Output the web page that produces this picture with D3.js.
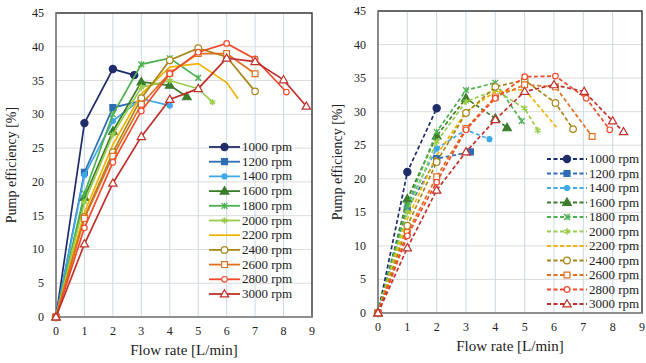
<!DOCTYPE html>
<html>
<head>
<meta charset="utf-8">
<script src="https://cdn.jsdelivr.net/npm/d3@7"></script>
<style>
  body { margin: 0; background: #fff; }
  svg { display: block; }
</style>
</head>
<body>
<div id="wrapper"></div>
<script>
// speeds (legend) and their styles
const speeds = ["1000 rpm", "1200 rpm", "1400 rpm", "1600 rpm", "1800 rpm", "2000 rpm",
  "2200 rpm", "2400 rpm", "2600 rpm", "2800 rpm", "3000 rpm"];
const colors = ["#1f2d6b", "#2e6db4", "#3fa9e8", "#3a7d2a", "#4cb050", "#9acd4c",
  "#f0b400", "#a8861a", "#e07020", "#f04a2a", "#c0302a"];
const markers = ["circle", "square", "dot", "triangle", "xstar", "star",
  "plus", "ocircle", "osquare", "odot", "otriangle"];

const xTicks = [0, 1, 2, 3, 4, 5, 6, 7, 8, 9];
const yTicks = [0, 5, 10, 15, 20, 25, 30, 35, 40, 45];

// left panel: [flow, efficiency]
const leftPoints = [
  [[0, 0], [1, 28.7], [2, 36.7], [2.75, 35.8]],
  [[0, 0], [1, 21.4], [2, 31], [3, 32]],
  [[0, 0], [1, 21], [2, 29], [3, 32.3], [4, 31.3]],
  [[0, 0], [1, 17.7], [2, 27.5], [3, 34.8], [4, 34.3], [4.6, 32.6]],
  [[0, 0], [1, 18.3], [2, 30], [3, 37.4], [4, 38.3], [5, 35.4]],
  [[0, 0], [1, 17], [2, 27], [3, 34], [4, 35], [5, 33.8], [5.5, 31.8]],
  [[0, 0], [1, 15.5], [2, 25.5], [3, 33], [4, 37], [5, 37.5], [6, 34.7], [6.4, 32.3]],
  [[0, 0], [1, 14.8], [2, 24.4], [3, 32.4], [4, 38], [5, 39.8], [6, 38.5], [7, 33.4]],
  [[0, 0], [1, 14.6], [2, 23.8], [3, 31.5], [4, 36.1], [5, 39], [6, 39], [7, 36]],
  [[0, 0], [1, 13.2], [2, 22.9], [3, 30.5], [4, 36], [5, 39.2], [6, 40.5], [7, 38.2], [8.1, 33.3]],
  [[0, 0], [1, 10.8], [2, 19.8], [3, 26.7], [4, 32.2], [5, 33.8], [6, 38.3], [7, 37.8], [8, 35.1], [8.8, 31.2]]
];

// right panel: [flow, efficiency]
const rightPoints = [
  [[0, 0], [1, 21], [2, 30.5]],
  [[0, 0], [1, 15.5], [2, 23], [3.15, 24]],
  [[0, 0], [1, 16], [2, 24.5], [3, 27.3], [3.8, 25.9]],
  [[0, 0], [1, 17], [2, 26.4], [3, 32], [4, 29], [4.4, 27.6]],
  [[0, 0], [1, 16], [2, 27], [3, 33.2], [4, 34.3], [4.9, 28.6]],
  [[0, 0], [1, 15], [2, 25.5], [3, 31.5], [4, 33.2], [5, 30.5], [5.45, 27.2]],
  [[0, 0], [1, 14], [2, 23.5], [3, 30], [4, 33], [5, 33.3], [6.1, 27.6]],
  [[0, 0], [1, 13], [2, 22.5], [3, 29.8], [4, 33.7], [5, 34.7], [6.05, 31.3], [6.65, 27.4]],
  [[0, 0], [1, 12], [2, 20.3], [3, 27.5], [4, 32.2], [5, 34], [6.05, 33.7], [7.3, 26.3]],
  [[0, 0], [1, 11.5], [2, 19.5], [3, 27.3], [4, 32], [5, 35.2], [6.05, 35.3], [7.1, 32], [7.9, 27.3]],
  [[0, 0], [1, 9.7], [2, 18.3], [3, 24], [4, 28.8], [5, 33], [6, 34], [7.03, 33], [8, 28.6], [8.37, 27]]
];

const svg = d3.select("#wrapper").append("svg")
  .attr("width", 646).attr("height", 363)
  .attr("font-family", "'Liberation Serif', 'Times New Roman', Times, serif")
  .style("font-family", "'Liberation Serif', 'Times New Roman', Times, serif");

function drawMarker(g, type, color, cx, cy) {
  const open = type[0] === "o";
  const fill = open ? "#fff" : color;
  const t = open ? type.slice(1) : type;
  if (t === "circle") {
    g.append("circle").attr("cx", cx).attr("cy", cy).attr("r", open ? 3.3 : 3.6)
      .attr("fill", fill).attr("stroke", color).attr("stroke-width", 1.2);
  } else if (t === "dot") {
    g.append("circle").attr("cx", cx).attr("cy", cy).attr("r", open ? 2.8 : 2.5)
      .attr("fill", fill).attr("stroke", color).attr("stroke-width", 1.2);
  } else if (t === "square") {
    g.append("path").attr("d", d3.symbol(d3.symbolSquare, open ? 34 : 36)())
      .attr("transform", `translate(${cx},${cy})`)
      .attr("fill", fill).attr("stroke", color).attr("stroke-width", 1.2);
  } else if (t === "triangle") {
    g.append("path").attr("d", d3.symbol(d3.symbolTriangle, open ? 30 : 32)())
      .attr("transform", `translate(${cx},${cy + 0.5})`)
      .attr("fill", fill).attr("stroke", color).attr("stroke-width", 1.2);
  } else if (t === "xstar") {
    g.append("path").attr("d", d3.symbol(d3.symbolX, 24)())
      .attr("transform", `translate(${cx},${cy})`)
      .attr("fill", "none").attr("stroke", color).attr("stroke-width", 1.3);
    g.append("line").attr("x1", cx).attr("x2", cx).attr("y1", cy - 3).attr("y2", cy + 3)
      .attr("stroke", color).attr("stroke-width", 1.1);
  } else if (t === "star") {
    g.append("path").attr("d", d3.symbol(d3.symbolAsterisk, 28)())
      .attr("transform", `translate(${cx},${cy})`)
      .attr("fill", "none").attr("stroke", color).attr("stroke-width", 1.5);
  } else if (t === "plus") {
    g.append("path").attr("d", d3.symbol(d3.symbolPlus, 22)())
      .attr("transform", `translate(${cx},${cy})`)
      .attr("fill", color);
  }
}

function panel(opts) {
  const x = d3.scaleLinear().domain([0, 9]).range([opts.x0, opts.x1]);
  const y = d3.scaleLinear().domain([0, 45]).range([opts.y0, opts.y1]);
  const g = svg.append("g");

  //GRID
  g.append("g").selectAll("line").data(yTicks.slice(1)).join("line")
    .attr("x1", opts.x0).attr("x2", opts.x1)
    .attr("y1", d => y(d)).attr("y2", d => y(d))
    .attr("stroke", "#dcdcdc").attr("stroke-width", 1);
  g.append("g").selectAll("line").data(xTicks.slice(1, -1)).join("line")
    .attr("x1", d => x(d)).attr("x2", d => x(d))
    .attr("y1", opts.y0).attr("y2", opts.y1)
    .attr("stroke", "#c9d9ea").attr("stroke-width", 1);

  //FRAME
  g.append("rect")
    .attr("x", opts.x0).attr("y", opts.y1)
    .attr("width", opts.x1 - opts.x0).attr("height", opts.y0 - opts.y1)
    .attr("fill", "none").attr("stroke", "#222").attr("stroke-width", 1.3);
  g.append("line").attr("x1", opts.x0).attr("x2", opts.x1)
    .attr("y1", opts.y0).attr("y2", opts.y0)
    .attr("stroke", "#9a9a9a").attr("stroke-width", 1.3);
  g.append("line").attr("x1", opts.x0).attr("x2", opts.x0)
    .attr("y1", opts.y0).attr("y2", opts.y1)
    .attr("stroke", "#9a9a9a").attr("stroke-width", 1.3);

  //AXES LABELS
  g.append("g").selectAll("text").data(xTicks).join("text")
    .attr("x", d => x(d)).attr("y", opts.y0 + 18)
    .attr("text-anchor", "middle").attr("font-size", 12).attr("fill", "#222")
    .text(d => d);
  g.append("g").selectAll("text").data(yTicks).join("text")
    .attr("x", opts.x0 - 12).attr("y", d => y(d) + 4)
    .attr("text-anchor", "end").attr("font-size", 12).attr("fill", "#222")
    .text(d => d);

  g.append("text")
    .attr("x", (opts.x0 + opts.x1) / 2).attr("y", opts.y0 + 38)
    .attr("text-anchor", "middle").attr("font-size", 15).attr("fill", "#222")
    .text("Flow rate [L/min]");
  g.append("text")
    .attr("transform", `translate(${opts.titleX},${(opts.y0 + opts.y1) / 2}) rotate(-90)`)
    .attr("text-anchor", "middle").attr("font-size", 14).attr("fill", "#222")
    .text("Pump efficiency [%]");

  //SERIES
  const line = d3.line().x(d => x(d[0])).y(d => y(d[1]));
  opts.points.forEach((pts, i) => {
    const s = g.append("g");
    s.append("path").attr("d", line(pts))
      .attr("fill", "none").attr("stroke", colors[i]).attr("stroke-width", 1.7)
      .attr("stroke-dasharray", opts.dash || null);
    pts.forEach(p => drawMarker(s, markers[i], colors[i], x(p[0]), y(p[1])));
  });

  //LEGEND
  const lg = g.append("g");
  speeds.forEach((name, i) => {
    const ly = opts.legY + i * opts.legStep;
    lg.append("line")
      .attr("x1", opts.legX).attr("x2", opts.legX + opts.legW)
      .attr("y1", ly).attr("y2", ly)
      .attr("stroke", colors[i]).attr("stroke-width", 1.8)
      .attr("stroke-dasharray", opts.dash || null);
    drawMarker(lg, markers[i], colors[i], opts.legX + opts.legW / 2, ly);
    lg.append("text")
      .attr("x", opts.legX + opts.legW + 2).attr("y", ly + 4)
      .attr("font-size", 13).attr("fill", "#222")
      .text(name);
  });
}

panel({
  x0: 56, x1: 312, y0: 317, y1: 13, titleX: 16,
  points: leftPoints,
  legX: 209, legW: 31, legY: 147, legStep: 14.7
});

panel({
  x0: 378, x1: 642, y0: 313, y1: 11, titleX: 342,
  points: rightPoints, dash: "4,2.5",
  legX: 547, legW: 40, legY: 159, legStep: 14.5
});
</script>
</body>
</html>
